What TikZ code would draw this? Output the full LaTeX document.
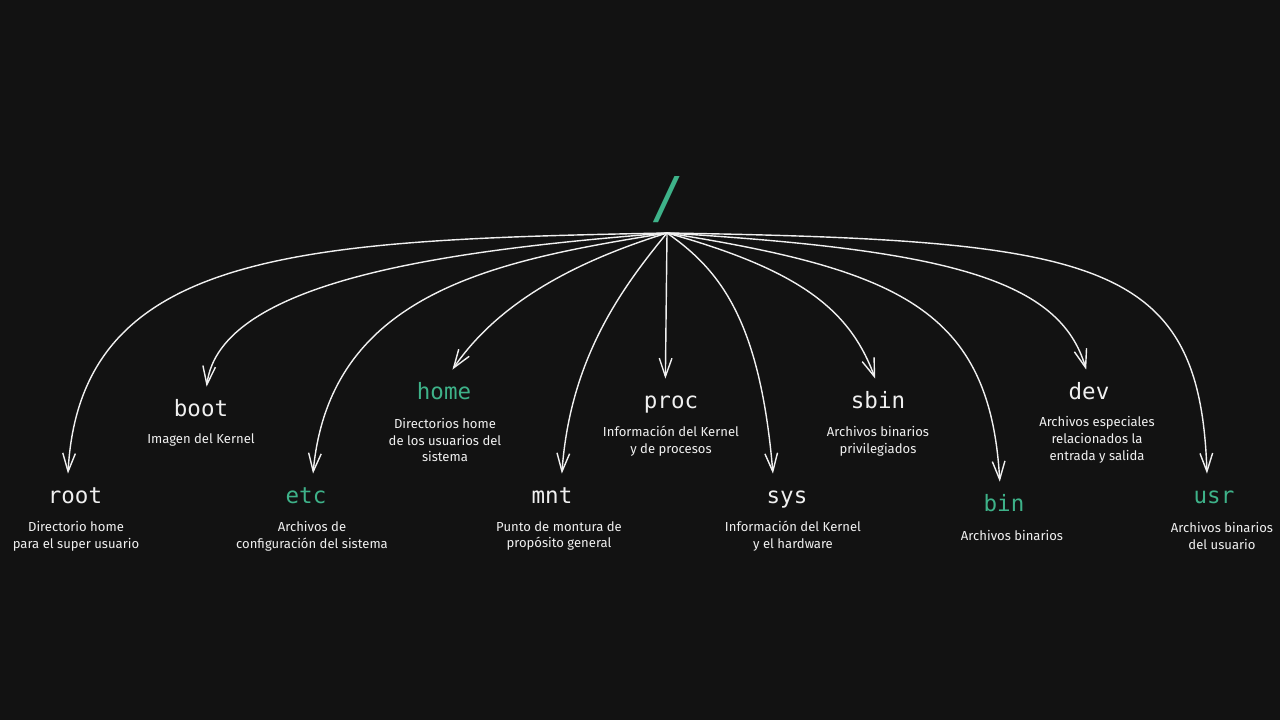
\documentclass[tikz,border=0pt]{standalone}
\usepackage{fontspec}
\setmainfont{Fira Sans}
\setmonofont{DejaVu Sans Mono}
\usetikzlibrary{arrows.meta}
\definecolor{bgdark}{RGB}{18, 18, 18}
\definecolor{chalk}{RGB}{240, 240, 240}
\definecolor{mint}{RGB}{62, 178, 137}

\tikzset{
	dirname/.style={font=\ttfamily\fontsize{16}{18}\selectfont, text=chalk, text height=13pt, text depth=1pt, inner xsep=2pt, inner ysep=8pt},
	dirgreen/.style={dirname, text=mint},
	dirdesc/.style={font=\fontsize{9.3}{12}\selectfont, text=chalk, align=center, inner sep=0pt},
	branch/.style={chalk, line width=1pt, -{Straight Barb[length=13pt, width=9pt, line width=1pt]}}
}

\begin{document}
\begin{tikzpicture}[x=0.025cm, y=-0.025cm]
			
			% FONDO
			\fill[bgdark] (0, 0) rectangle (1280, 720);
			\useasboundingbox (0, 0) rectangle (1280, 720);
			
			% RAIZ
			\node[font=\ttfamily\fontsize{40}{40}\selectfont, text=mint] (slash) at (667, 200) {/};
			\coordinate (top) at (667, 233);
			
			% DIRECTORIOS
			\node[dirname] (root) at (75, 495) {root};
			\node[dirdesc] (rootd) at (76, 536) {Directorio home\\para el super usuario};
			
			\node[dirname] (boot) at (201, 408) {boot};
			\node[dirdesc] (bootd) at (201, 440) {Imagen del Kernel};
			
			\node[dirgreen] (etc) at (306, 495) {etc};
			\node[dirdesc] (etcd) at (312, 536) {Archivos de\\configuración del sistema};
			
			\node[dirgreen] (home) at (444, 391) {home};
			\node[dirdesc] (homed) at (445, 440) {Directorios home\\de los usuarios del\\sistema};
			
			\node[dirname] (mnt) at (552, 495) {mnt};
			\node[dirdesc] (mntd) at (559, 536) {Punto de montura de\\propósito general};
			
			\node[dirname] (proc) at (671, 400) {proc};
			\node[dirdesc] (procd) at (671, 441) {Información del Kernel\\y de procesos};
			
			\node[dirname] (sys) at (787, 495) {sys};
			\node[dirdesc] (sysd) at (793, 536) {Información del Kernel\\y el hardware};
			
			\node[dirname] (sbin) at (878, 400) {sbin};
			\node[dirdesc] (sbind) at (878, 441) {Archivos binarios\\privilegiados};
			
			\node[dirgreen] (bin) at (1004, 503) {bin};
			\node[dirdesc] (bind) at (1012, 535) {Archivos binarios};
			
			\node[dirname] (dev) at (1089, 391) {dev};
			\node[dirdesc] (devd) at (1097, 440) {Archivos especiales\\relacionados la\\entrada y salida};
			
			\node[dirgreen] (usr) at (1214, 495) {usr};
			\node[dirdesc] (usrd) at (1222, 536) {Archivos binarios\\del usuario};
			
			% FLECHAS
			\draw[branch] (top) .. controls (300, 240) and (80, 250) .. ([xshift=-5]root.north);
			\draw[branch] (top) .. controls (450, 250) and (220, 280) .. ([xshift=4]boot.north);
			\draw[branch] (top) .. controls (500, 260) and (330, 290) .. ([xshift=5]etc.north);
			\draw[branch] (top) .. controls (580, 260) and (500, 300) .. ([xshift=6]home.north);
			\draw[branch] (top) .. controls (620, 290) and (570, 360) .. ([xshift=7]mnt.north);
			\draw[branch] (top) -- ([xshift=-4]proc.north);
			\draw[branch] (top) .. controls (720, 270) and (760, 320) .. ([xshift=-10]sys.north);
			\draw[branch] (top) .. controls (800, 270) and (850, 310) .. ([xshift=-2]sbin.north);
			\draw[branch] (top) .. controls (900, 270) and (990, 310) .. ([xshift=-3]bin.north);
			\draw[branch] (top) .. controls (950, 250) and (1060, 280) .. ([xshift=-2]dev.north);
			\draw[branch] (top) .. controls (1100, 240) and (1200, 260) .. ([xshift=-5]usr.north);
			
		\end{tikzpicture}
\end{document}
